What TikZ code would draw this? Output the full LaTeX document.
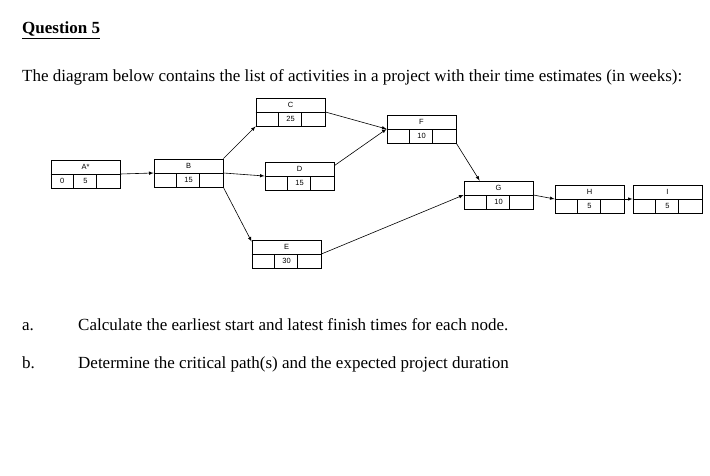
\documentclass[tikz,border=0pt]{standalone}
\usepackage{fontspec}
\usetikzlibrary{calc}
\setmainfont{Liberation Serif}
\newfontfamily\boxfont{Liberation Sans}
\begin{document}
\begin{tikzpicture}[x=1pt,y=-1pt,
  abox/.style={draw, line width=0.8pt, minimum width=69pt, minimum height=28pt, inner sep=0pt},
  conn/.style={-latex, line width=0.6pt},
  t/.style={anchor=base west, inner sep=0pt, font=\fontsize{17}{19}\selectfont}]
\useasboundingbox (0,0) rectangle (710,476);
\newcommand\actbox[6]{%
  \node[abox] (#1) at (#2,#3) {};
  \draw[line width=0.6pt] (#1.west) -- (#1.east);
  \draw[line width=0.6pt] ($(#1.south west)+(23,0)$) -- ($(#1.west)+(23,0)$);
  \draw[line width=0.6pt] ($(#1.south west)+(46,0)$) -- ($(#1.west)+(46,0)$);
  \node[font=\boxfont\fontsize{7.5}{8}\selectfont] at ($(#1.north)+(0,7)$) {#4};
  \node[font=\boxfont\fontsize{7.5}{8}\selectfont] at ($(#1.south)+(0,-7)$) {#5};
  \node[font=\boxfont\fontsize{7.5}{8}\selectfont] at ($(#1.south west)+(11.5,-7)$) {#6};
}
\actbox{A}{85.5}{174}{A*}{5}{0}
\actbox{B}{188.5}{173}{B}{15}{}
\actbox{C}{290.5}{112}{C}{25}{}
\actbox{D}{299.5}{176}{D}{15}{}
\actbox{E}{286.5}{254}{E}{30}{}
\actbox{F}{421.5}{129}{F}{10}{}
\actbox{G}{498.5}{195}{G}{10}{}
\actbox{H}{589.5}{199}{H}{5}{}
\actbox{I}{667.5}{199}{I}{5}{}
\draw[conn] (A.east) -- (B.west);
\draw[conn] (B.north east) -- (C.south west);
\draw[conn] (B.east) -- (D.west);
\draw[conn] (B.south east) -- ($(E.north west)+(0,2)$);
\draw[conn] (C.east) -- (F.west);
\draw[conn] ($(D.north east)+(0,4)$) -- (F.west);
\draw[conn] (F.south east) -- ($(G.north west)+(16,0)$);
\draw[conn] (E.east) -- (G.west);
\draw[conn] (G.east) -- (H.west);
\draw[conn] (H.east) -- (I.west);
\node[t, font=\bfseries\fontsize{17}{19}\selectfont] (q) at (22,34) {\underline{Question 5}};
\node[t] (p) at (22,82) {The diagram below contains the list of activities in a project with their time estimates (in weeks):};
\node[t] (la) at (22,330) {a.};
\node[t] (ta) at (78,330) {Calculate the earliest start and latest finish times for each node.};
\node[t] (lb) at (22,368) {b.};
\node[t] (tb) at (78,368) {Determine the critical path(s) and the expected project duration};
\end{tikzpicture}
\end{document}
